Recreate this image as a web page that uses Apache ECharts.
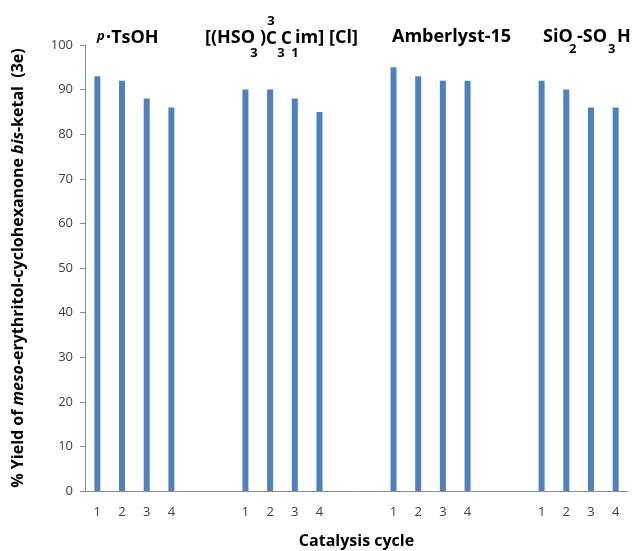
<!DOCTYPE html>
<html>
<head>
<meta charset="utf-8">
<script src="https://cdn.jsdelivr.net/npm/echarts@6/dist/echarts.min.js"></script>
<style>
    html, body { margin: 0; padding: 0; background: #fff; }
    #chart { width: 632px; height: 551px; }
</style>
</head>
<body>
<div id="chart"></div>
<script>
// cycle labels and yields (%)
var cycleLabels = ['1', '2', '3', '4'];
var pTsOH = [93, 92, 88, 86];
var ionicLiquid = [90, 90, 88, 85];
var amberlyst15 = [95, 93, 92, 92];
var sio2So3h = [92, 90, 86, 86];
var yTicks = [0, 10, 20, 30, 40, 50, 60, 70, 80, 90, 100];

var groups = [pTsOH, ionicLiquid, amberlyst15, sio2So3h];
var gapSize = 2;   // empty slots between catalysts

var categories = [];
var values = [];
groups.forEach(function (g, gi) {
    g.forEach(function (v, i) {
        categories.push(cycleLabels[i]);
        values.push(v);
    });
    if (gi < groups.length - 1) {
        for (var k = 0; k < gapSize; k++) {
            categories.push('');
            values.push('-');
        }
    }
});

var FONT = '"Open Sans", sans-serif';
var boldText = { fontFamily: FONT, fontWeight: 'bold', fontSize: 18, fill: '#000' };
var smallC = { fontFamily: FONT, fontWeight: 'bold', fontSize: 17, fill: '#000' };
var subText = { fontFamily: FONT, fontWeight: 'bold', fontSize: 13, fill: '#000' };

function txt(x, y, s, style, align) {
    return {
        type: 'text', x: x, y: y,
        style: Object.assign({ text: s, verticalAlign: 'middle', align: align || 'left' }, style)
    };
}

var option = {
    backgroundColor: '#fff',
    animation: false,
    grid: { left: 85, right: 4, top: 45, bottom: 60, outerBoundsMode: 'none' },
    xAxis: {
        type: 'category',
        data: categories,
        boundaryGap: true,
        axisLine: { lineStyle: { color: '#8c8c8c', width: 1 } },
        axisTick: { show: false },
        axisLabel: { color: '#404040', fontFamily: FONT, fontSize: 13, margin: 15, interval: 0 },
        name: 'Catalysis cycle',
        nameLocation: 'middle',
        nameGap: 42,
        nameTextStyle: { color: '#000', fontFamily: FONT, fontWeight: 'bold', fontSize: 16 }
    },
    yAxis: {
        type: 'value',
        min: yTicks[0],
        max: yTicks[yTicks.length - 1],
        interval: 10,
        splitLine: { show: false },
        axisLine: { show: true, lineStyle: { color: '#8c8c8c', width: 1 } },
        axisTick: { show: true, length: 5, lineStyle: { color: '#8c8c8c' } },
        axisLabel: { color: '#404040', fontFamily: FONT, fontSize: 13, margin: 12 },
        name: '{b|% Yield of }{i|meso}{b|-erythritol-cyclohexanone }{i|bis}{b|-ketal  (3e)}',
        nameLocation: 'middle',
        nameRotate: 90,
        nameGap: 59,
        nameTextStyle: {
            rich: {
                b: { fontFamily: FONT, fontWeight: 'bold', fontSize: 16, color: '#000' },
                i: { fontFamily: FONT, fontWeight: 'bold', fontStyle: 'italic', fontSize: 16, color: '#000' }
            }
        }
    },
    series: [{
        type: 'bar',
        data: values,
        barWidth: 6,
        itemStyle: { color: '#4f81bd' }
    }],
    graphic: [
        // p-TsOH
        txt(97, 36, 'p', { fontFamily: FONT, fontWeight: 'bold', fontStyle: 'italic', fontSize: 13, fill: '#000' }),
        txt(106, 38, '·TsOH', boldText),
        // [(HSO3)3C3C1im][Cl]
        txt(205, 38, '[(HSO', boldText),
        txt(260, 38, ')', boldText),
        txt(266, 39, 'C', smallC),
        txt(281, 39, 'C', smallC),
        txt(295, 38, 'im]', boldText),
        txt(329, 38, '[Cl]', boldText),
        txt(271, 21, '3', subText, 'center'),
        txt(254, 53, '3', subText, 'center'),
        txt(281, 53, '3', subText, 'center'),
        txt(295, 53, '1', subText, 'center'),
        // Amberlyst-15
        txt(392, 37, 'Amberlyst-15', boldText),
        // SiO2-SO3H
        txt(543, 37, 'SiO', boldText),
        txt(569, 49, '2', subText),
        txt(577, 37, '-SO', boldText),
        txt(608, 49, '3', subText),
        txt(617, 37, 'H', boldText)
    ]
};

var chart = echarts.init(document.getElementById('chart'));
chart.setOption(option);

window.addEventListener('resize', function () {
    chart.resize();
});
</script>
</body>
</html>
